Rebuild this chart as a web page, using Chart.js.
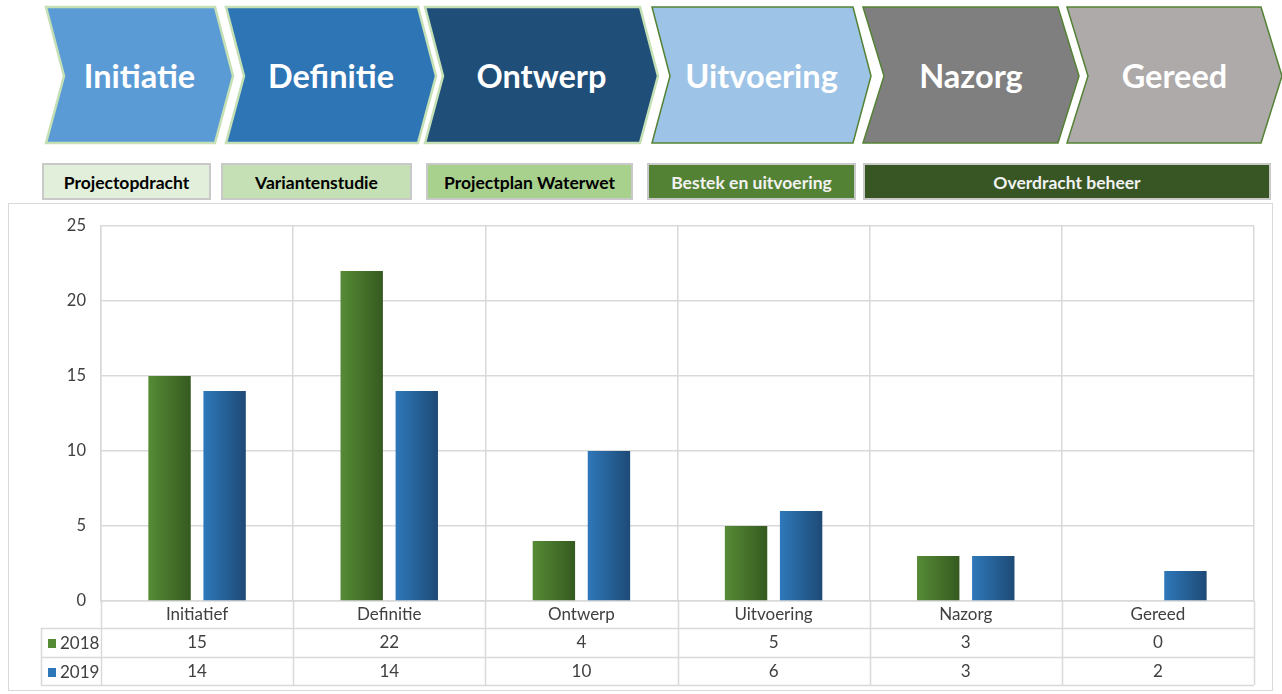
<!DOCTYPE html>
<html>
<head>
<meta charset="utf-8">
<script src="https://cdn.jsdelivr.net/npm/chart.js@4/dist/chart.umd.min.js"></script>
<style>
  html, body { margin:0; padding:0; background:#fff; }
  body { width:1282px; height:694px; position:relative; overflow:hidden; font-family:Lato, "Open Sans", sans-serif; }
  #frame { position:absolute; left:8px; top:203px; width:1265px; height:488px; border:1px solid #d9d9d9; box-sizing:border-box; }
  #hdr { position:absolute; left:0; top:0; }
  .box { position:absolute; top:163px; height:37px; box-sizing:border-box; border:2px solid #c9c9c9;
         font:bold 17.5px Lato, sans-serif; display:flex; align-items:center; justify-content:center; padding-top:2px; }
  #c { position:absolute; left:0; top:0; }
</style>
</head>
<body>
<div id="frame"></div>
<svg id="hdr" width="1282" height="160"></svg>
<div id="boxes"></div>
<canvas id="c" width="1282" height="694"></canvas>
<script>
// ---- data ----
const categories = ['Initiatief', 'Definitie', 'Ontwerp', 'Uitvoering', 'Nazorg', 'Gereed'];
const seriesNames = ['2018', '2019'];
const values2018 = [15, 22, 4, 5, 3, 0];
const values2019 = [14, 14, 10, 6, 3, 2];
const yMax = 25;
const yStep = 5;
const phases = ['Initiatie', 'Definitie', 'Ontwerp', 'Uitvoering', 'Nazorg', 'Gereed'];
const deliverables = ['Projectopdracht', 'Variantenstudie', 'Projectplan Waterwet', 'Bestek en uitvoering', 'Overdracht beheer'];

// ---- header styling (positions / colours) ----
const chevronGeom = [[46,215,18],[226,418,18],[425,640,18],[652,853,18],[863,1058,21],[1067,1261,21]];
const chevronFill = ['#5b9bd5','#2e75b6','#1f4e79','#9dc3e6','#7f7f7f','#aeaaaa'];
const chevronStroke = ['#c5e0b4','#c5e0b4','#c5e0b4','#548235','#548235','#548235'];
const boxGeom = [[42,211],[221,412],[426,633],[647,856],[863,1271]];
const boxFill = ['#e2efda','#c5e0b4','#a9d18e','#548235','#375623'];
const boxText = ['#000','#000','#000','#f2f2f2','#f2f2f2'];

const NS = 'http://www.w3.org/2000/svg';
const svg = document.getElementById('hdr');
phases.forEach((p, i) => {
  const [x0, x1, d] = chevronGeom[i];
  const top = 7, bot = 143, mid = 76;
  const poly = document.createElementNS(NS, 'polygon');
  poly.setAttribute('points', `${x0},${top} ${x1},${top} ${x1+d},${mid} ${x1},${bot} ${x0},${bot} ${x0+d},${mid}`);
  poly.setAttribute('fill', chevronFill[i]);
  poly.setAttribute('stroke', chevronStroke[i]);
  poly.setAttribute('stroke-width', i < 3 ? 2.5 : 1.5);
  svg.appendChild(poly);
  const t = document.createElementNS(NS, 'text');
  t.setAttribute('x', (x0 + x1 + d) / 2);
  t.setAttribute('y', 88);
  t.setAttribute('text-anchor', 'middle');
  t.setAttribute('fill', '#ffffff');
  t.setAttribute('font-family', 'Lato, sans-serif');
  t.setAttribute('font-weight', 'bold');
  t.setAttribute('font-size', '32.5');
  t.textContent = p;
  svg.appendChild(t);
});
const boxes = document.getElementById('boxes');
deliverables.forEach((d, i) => {
  const b = document.createElement('div');
  b.className = 'box';
  b.style.left = boxGeom[i][0] + 'px';
  b.style.width = (boxGeom[i][1] - boxGeom[i][0]) + 'px';
  b.style.background = boxFill[i];
  b.style.color = boxText[i];
  b.textContent = d;
  boxes.appendChild(b);
});

// ---- chart ----
const CAT = 0.573, BAR = 0.77;
const seriesColors = [['#568b36', '#355a20'], ['#2e78ba', '#1e4a76']];
function barGradient(ctx, ds) {
  const chart = ctx.chart;
  const xs = chart.scales && chart.scales.x;
  const cols = seriesColors[ds];
  if (!xs || !chart.chartArea || ctx.dataIndex === undefined) return cols[0];
  const catW = xs.width / categories.length;
  const slot = catW * CAT / 2;
  const bw = slot * BAR;
  const left = xs.getPixelForValue(ctx.dataIndex) - catW * CAT / 2 + ds * slot + (slot - bw) / 2;
  const g = chart.ctx.createLinearGradient(left, 0, left + bw, 0);
  g.addColorStop(0, cols[0]);
  g.addColorStop(1, cols[1]);
  return g;
}

const tablePlugin = {
  id: 'dataTable',
  afterDraw(chart) {
    const { ctx, chartArea } = chart;
    const xs = chart.scales.x;
    const n = categories.length;
    const catW = xs.width / n;
    const b = chartArea.bottom;
    const rowLines = [b + 27, b + 56, b + 84];
    const tableLeft = 41;
    ctx.save();
    ctx.strokeStyle = '#d9d9d9';
    ctx.lineWidth = 1.5;
    for (let i = 0; i <= n; i++) {
      const x = Math.round(xs.left + i * catW) + 0.5;
      ctx.beginPath(); ctx.moveTo(x, b); ctx.lineTo(x, rowLines[2]); ctx.stroke();
    }
    ctx.beginPath(); ctx.moveTo(tableLeft + 0.5, rowLines[0]); ctx.lineTo(tableLeft + 0.5, rowLines[2]); ctx.stroke();
    rowLines.forEach(y => {
      ctx.beginPath(); ctx.moveTo(tableLeft, y + 0.5); ctx.lineTo(xs.right, y + 0.5); ctx.stroke();
    });
    ctx.font = '17px Lato, sans-serif';
    ctx.fillStyle = '#404040';
    ctx.textAlign = 'center';
    ctx.textBaseline = 'middle';
    const rowsData = [values2018, values2019];
    categories.forEach((c, i) => {
      const cx = xs.getPixelForValue(i);
      ctx.fillText(c, cx, b + 14);
      rowsData.forEach((arr, r) => ctx.fillText(String(arr[i]), cx, rowLines[r] + 15));
    });
    ctx.textAlign = 'left';
    seriesNames.forEach((s, r) => {
      const cy = rowLines[r] + 15;
      ctx.fillStyle = seriesColors[r][0];
      ctx.fillRect(48, cy - 4, 8, 9);
      ctx.fillStyle = '#404040';
      ctx.fillText(s, 60, cy + 1);
    });
    ctx.restore();
  }
};

function build() {
  Chart.defaults.font.family = 'Lato, "Open Sans", sans-serif';
  new Chart(document.getElementById('c'), {
    type: 'bar',
    data: {
      labels: categories,
      datasets: [
        { label: seriesNames[0], data: values2018, backgroundColor: c => barGradient(c, 0) },
        { label: seriesNames[1], data: values2019, backgroundColor: c => barGradient(c, 1) }
      ]
    },
    options: {
      responsive: false,
      animation: false,
      devicePixelRatio: 1,
      categoryPercentage: CAT,
      barPercentage: BAR,
      layout: { padding: { top: 226, right: 28, left: 0, bottom: 0 } },
      plugins: { legend: { display: false }, tooltip: { enabled: false } },
      scales: {
        x: {
          afterFit: s => { s.height = 93; },
          ticks: { display: false },
          grid: { color: '#d9d9d9', lineWidth: 1.5, drawTicks: false, offset: true },
          border: { display: true, color: '#d9d9d9', width: 1.5 }
        },
        y: {
          min: 0, max: yMax,
          afterFit: s => { s.width = 101; },
          ticks: { stepSize: yStep, padding: 15, color: '#404040', font: { size: 16.5 } },
          grid: { color: '#d9d9d9', lineWidth: 1.5, drawTicks: false },
          border: { display: true, color: '#d9d9d9', width: 1.5 }
        }
      }
    },
    plugins: [tablePlugin]
  });
}
if (document.fonts && document.fonts.load) {
  Promise.all([document.fonts.load('16px Lato'), document.fonts.load('bold 16px Lato')]).then(build, build);
} else { build(); }
</script>
</body>
</html>
